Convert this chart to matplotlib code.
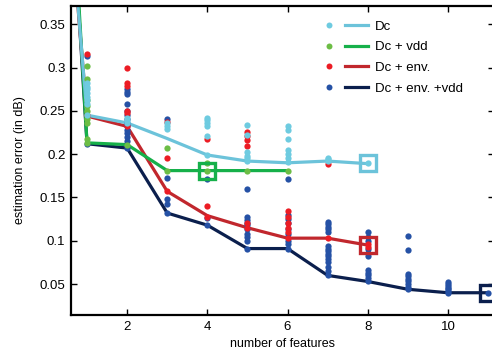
import matplotlib
matplotlib.use("Agg")
import matplotlib.pyplot as plt
from matplotlib.lines import Line2D
from matplotlib.legend_handler import HandlerTuple

plt.rcParams['font.family'] = ['Liberation Sans', 'DejaVu Sans']

# mean error per number of features (x = 0 is the off-axis start point)
dc_x = [0, 1, 2, 3, 4, 5, 6, 7, 8]
dc_y = [0.80, 0.245, 0.236, 0.218, 0.199, 0.192, 0.190, 0.192, 0.189]
vdd_x = [0, 1, 2, 3, 4, 5, 6]
vdd_y = [1.00, 0.213, 0.211, 0.181, 0.181, 0.181, 0.181]
env_x = [0, 1, 2, 3, 4, 5, 6, 7, 8]
env_y = [0.80, 0.244, 0.232, 0.157, 0.129, 0.115, 0.103, 0.103, 0.095]
envvdd_x = [0, 1, 2, 3, 4, 5, 6, 7, 8, 9, 10, 11]
envvdd_y = [0.95, 0.212, 0.207, 0.132, 0.118, 0.091, 0.091, 0.060, 0.053, 0.044, 0.040, 0.040]

# selected model (square) per series
best = [(8, 0.190), (4, 0.181), (8, 0.095), (11, 0.040)]

# individual runs, list index = number of features - 1
dc_pts = [[0.282, 0.278, 0.275, 0.270, 0.266, 0.262, 0.258, 0.245],
          [0.242, 0.238, 0.236],
          [0.236, 0.232, 0.229],
          [0.242, 0.239, 0.236, 0.233, 0.221, 0.199],
          [0.234, 0.222, 0.202, 0.198, 0.195, 0.192],
          [0.233, 0.228, 0.218, 0.205, 0.200, 0.196, 0.191],
          [0.196, 0.194, 0.192],
          [0.190]]
vdd_pts = [[0.302, 0.287, 0.262, 0.256, 0.250, 0.241, 0.236, 0.217, 0.213],
           [0.211],
           [0.207, 0.181],
           [0.190, 0.181],
           [0.181],
           [0.181]]
env_pts = [[0.316, 0.245],
           [0.300, 0.282, 0.279, 0.250, 0.247, 0.232],
           [0.237, 0.195, 0.157],
           [0.217, 0.140, 0.128],
           [0.226, 0.221, 0.216, 0.209, 0.121, 0.115],
           [0.134, 0.127, 0.120, 0.115, 0.110, 0.103],
           [0.189, 0.103],
           [0.096, 0.093]]
envvdd_pts = [[0.313, 0.212],
              [0.275, 0.272, 0.269, 0.258, 0.250, 0.245, 0.240, 0.236, 0.232,
               0.228, 0.224, 0.220, 0.215, 0.207],
              [0.241, 0.173, 0.148, 0.143, 0.132],
              [0.171, 0.126, 0.118],
              [0.160, 0.127, 0.124, 0.121, 0.118, 0.113, 0.108, 0.104, 0.100, 0.091],
              [0.171, 0.130, 0.125, 0.120, 0.114, 0.108, 0.100, 0.096, 0.091],
              [0.122, 0.119, 0.116, 0.113, 0.110, 0.094, 0.091, 0.088, 0.085,
               0.082, 0.079, 0.075, 0.070, 0.065, 0.060],
              [0.110, 0.104, 0.100, 0.090, 0.086, 0.082, 0.066, 0.063, 0.060,
               0.057, 0.053],
              [0.106, 0.089, 0.062, 0.059, 0.056, 0.053, 0.050, 0.047, 0.044],
              [0.052, 0.050, 0.048, 0.046, 0.044, 0.042, 0.040],
              [0.040]]

labels = ['Dc', 'Dc + vdd', 'Dc + env.', 'Dc + env. +vdd']
line_colors = ['#6cc3da', '#16b04a', '#c1272d', '#0b1f4d']
dot_colors = ['#6ecbe0', '#6cbd45', '#ec1c24', '#2551a5']

fig = plt.figure(figsize=(4.92, 3.55), dpi=100)
ax = fig.add_axes([71 / 492, 40 / 355, 423 / 492, 309 / 355])

series = [(dc_x, dc_y, dc_pts), (vdd_x, vdd_y, vdd_pts),
          (env_x, env_y, env_pts), (envvdd_x, envvdd_y, envvdd_pts)]

# lines, back to front: navy, red, green, cyan
for i in [3, 2, 1, 0]:
    xs, ys, pts = series[i]
    ax.plot(xs, ys, color=line_colors[i], lw=2.3, zorder=2 + (3 - i) * 0.1,
            solid_joinstyle='round')

for i in [3, 2, 1, 0]:
    xs, ys, pts = series[i]
    px, py = [], []
    for k, col in enumerate(pts):
        px += [k + 1] * len(col)
        py += col
    ax.plot(px, py, 'o', color=dot_colors[i], ms=4.5, mew=0, zorder=3)

for i, (bx, by) in enumerate(best):
    ax.plot(bx, by, 's', ms=11, mfc='none', mec=line_colors[i], mew=2.4,
            zorder=4, clip_on=True)

ax.set_xlim(0.6, 11.15)
ax.set_ylim(0.0143, 0.371)
ax.set_xticks([2, 4, 6, 8, 10])
ax.set_yticks([0.05, 0.1, 0.15, 0.2, 0.25, 0.3, 0.35])
ax.set_yticklabels(['0.05', '0.1', '0.15', '0.2', '0.25', '0.3', '0.35'])
ax.tick_params(direction='in', top=True, right=True, length=4, width=1,
               labelsize=9.5, pad=4)
for s in ax.spines.values():
    s.set_linewidth(1.6)
ax.set_xlabel('number of features', fontsize=9, labelpad=4)
ax.set_ylabel('estimation error (in dB)', fontsize=9, labelpad=10)

handles = []
for i in range(4):
    handles.append((Line2D([], [], ls='none', marker='o', color=dot_colors[i], ms=4.3, mew=0),
                    Line2D([], [], color=line_colors[i], lw=2.3)))
ax.legend(handles, labels, handler_map={tuple: HandlerTuple(ndivide=None, pad=0.3)},
          loc='upper left', bbox_to_anchor=(0.553, 0.992), frameon=False,
          fontsize=9.5, handlelength=3.9, labelspacing=0.64, handletextpad=0.5)

fig.savefig('out.png', dpi=100)
